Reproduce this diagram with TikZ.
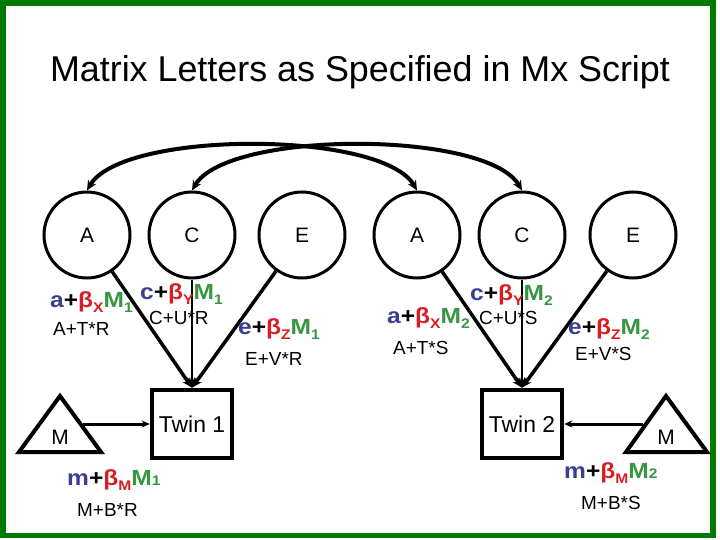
\documentclass[tikz,border=0pt]{standalone}
\usepackage{fontspec}
\setmainfont{Liberation Sans}
\newfontfamily\coeffont[FakeStretch=1.12]{Liberation Sans Bold}
\usetikzlibrary{arrows.meta}
\definecolor{mxframe}{RGB}{0,122,0}
\definecolor{mxblue}{RGB}{60,60,145}
\definecolor{mxred}{RGB}{215,30,35}
\definecolor{mxgreen}{RGB}{55,150,65}
\newcommand{\lowsub}[1]{\raisebox{-0.45ex}{\fontsize{14}{14}\selectfont #1}}
\newcommand{\flatsub}[1]{{\fontsize{14}{14}\selectfont #1}}
\newcommand{\pathcoef}[3]{\textcolor{mxblue}{#1}+\textcolor{mxred}{β\lowsub{#2}}\textcolor{mxgreen}{M#3}}

\begin{document}
\begin{tikzpicture}[
    x=1bp, y=-1bp,
    >={Stealth[length=10bp, width=9bp]},
    lv/.style={circle, draw=black, line width=3bp, minimum size=86bp, inner sep=0pt, font=\fontsize{21}{21}\selectfont},
    twin/.style={rectangle, draw=black, line width=4.5bp, minimum width=80bp, minimum height=68bp, inner sep=0pt, font=\fontsize{23}{23}\selectfont},
    tri/.style={draw=black, line width=4bp, line join=miter},
    leg/.style={draw=black, line width=3.5bp},
    dbl/.style={draw=black, line width=4bp, <->},
    mlink/.style={draw=black, line width=3bp, -{Stealth[length=8bp, width=7bp]}},
    coef/.style={anchor=base west, inner sep=0pt, font=\coeffont\fontsize{22}{22}\selectfont},
    expr/.style={anchor=base west, inner sep=0pt, font=\fontsize{19}{19}\selectfont},
    tag/.style={inner sep=0pt, font=\fontsize{21}{21}\selectfont},
  ]

  \useasboundingbox (0,0) rectangle (720,540);
  \draw[mxframe, line width=5.5bp] (3,3) rectangle (713,535.5);

  \node[anchor=base, inner sep=0pt, font=\fontsize{36}{36}\selectfont] (title) at (360,82)
    {Matrix Letters as Specified in Mx Script};

  % twin 1
  \node[lv] (A1) at (87,235)  {A};
  \node[lv] (C1) at (192,235) {C};
  \node[lv] (E1) at (302,235) {E};
  \node[twin] (T1) at (192,424) {Twin 1};
  \draw[leg, ->] (A1) -- (T1.north);
  \draw[leg, ->] (E1) -- (T1.north);
  \draw[leg, line width=2.5bp, ->] (C1) -- (T1.north);

  \draw[tri] (19,452) -- (60,396) -- (101,452) -- cycle;
  \node[tag] (M1) at (60,437) {M};
  \coordinate (M1out) at (83,424);
  \draw[mlink] (M1out) -- (T1.west);

  % twin 2
  \node[lv] (A2) at (417,235) {A};
  \node[lv] (C2) at (522,235) {C};
  \node[lv] (E2) at (633,235) {E};
  \node[twin] (T2) at (522,424) {Twin 2};
  \draw[leg, ->] (A2) -- (T2.north);
  \draw[leg, ->] (E2) -- (T2.north);
  \draw[leg, line width=2.5bp, ->] (C2) -- (T2.north);

  \draw[tri] (626,452) -- (666,396) -- (707,452) -- cycle;
  \node[tag] (M2) at (666,437) {M};
  \coordinate (M2out) at (643,424);
  \draw[mlink] (M2out) -- (T2.east);

  % shared A and C across twins
  \draw[dbl] (A1.north) .. controls (122,130) and (382,130) .. (A2.north);
  \draw[dbl] (C1.north) .. controls (227,130) and (487,130) .. (C2.north);

  % path labels, twin 1
  \node[coef] (a1lab) at (50,307)  {\pathcoef{a}{X}{\lowsub{1}}};
  \node[expr] (a1exp) at (53,335)  {A+T*R};
  \node[coef] (c1lab) at (140,299) {\pathcoef{c}{Y}{\lowsub{1}}};
  \node[expr] (c1exp) at (149,324) {C+U*R};
  \node[coef] (e1lab) at (238,334) {\pathcoef{e}{Z}{\lowsub{1}}};
  \node[expr] (e1exp) at (245,365) {E+V*R};
  \node[coef] (m1lab) at (67,485)  {\pathcoef{m}{M}{\flatsub{1}}};
  \node[expr] (m1exp) at (77,516)  {M+B*R};

  % path labels, twin 2
  \node[coef] (a2lab) at (387,323) {\pathcoef{a}{X}{\lowsub{2}}};
  \node[expr] (a2exp) at (393,354) {A+T*S};
  \node[coef] (c2lab) at (470,300) {\pathcoef{c}{Y}{\lowsub{2}}};
  \node[expr] (c2exp) at (479,324) {C+U*S};
  \node[coef] (e2lab) at (568,334) {\pathcoef{e}{Z}{\lowsub{2}}};
  \node[expr] (e2exp) at (575,360) {E+V*S};
  \node[coef] (m2lab) at (564,478) {\pathcoef{m}{M}{\flatsub{2}}};
  \node[expr] (m2exp) at (581,509) {M+B*S};

\end{tikzpicture}
\end{document}
